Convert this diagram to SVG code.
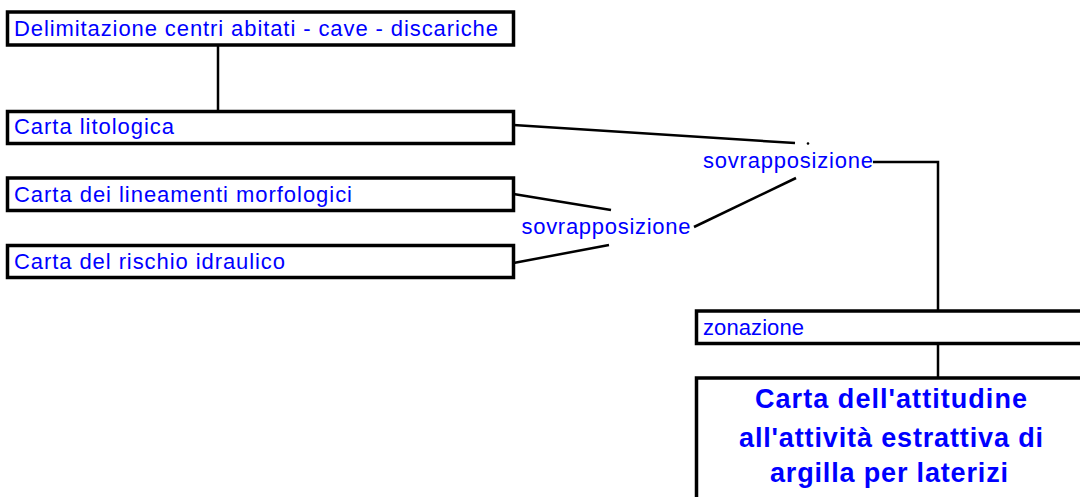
<svg xmlns="http://www.w3.org/2000/svg" width="1080" height="497" viewBox="0 0 1080 497">
<style>
.box{fill:#fff;stroke:#000;stroke-width:3.5}
.t{font-family:"Liberation Sans",Arial,sans-serif;font-size:22px;fill:#0000ff}
.b{font-family:"Liberation Sans",Arial,sans-serif;font-size:27px;font-weight:bold;fill:#0000ff}
.c{fill:none;stroke:#000;stroke-width:2.5}
</style>
<rect width="1080" height="497" fill="#fff"/>
<g id="connectors">
<line class="c" x1="218" y1="45" x2="218" y2="111.5"/>
<line class="c" x1="513.5" y1="125" x2="795" y2="143"/>
<line class="c" x1="513.5" y1="194" x2="611" y2="210"/>
<line class="c" x1="513.5" y1="263" x2="609" y2="245"/>
<line class="c" x1="694" y1="227" x2="796" y2="178"/>
<polyline class="c" points="873,162 938,162 938,311"/>
<line class="c" x1="938" y1="343" x2="938" y2="378"/>
<circle cx="808" cy="143.5" r="1.3" fill="#000"/>
</g>
<g id="n1">
<rect class="box" x="7.5" y="12" width="506" height="33"/>
<text class="t" x="14" y="36" textLength="484" lengthAdjust="spacing">Delimitazione centri abitati - cave - discariche</text>
</g>
<g id="n2">
<rect class="box" x="7.5" y="111.5" width="506" height="32"/>
<text class="t" x="14" y="133.5" textLength="160" lengthAdjust="spacing">Carta litologica</text>
</g>
<g id="n3">
<rect class="box" x="7.5" y="178" width="506" height="32.5"/>
<text class="t" x="14" y="201.5" textLength="338" lengthAdjust="spacing">Carta dei lineamenti morfologici</text>
</g>
<g id="n4">
<rect class="box" x="7.5" y="245.5" width="506" height="32"/>
<text class="t" x="14" y="268.5" textLength="271" lengthAdjust="spacing">Carta del rischio idraulico</text>
</g>
<g id="s1">
<text class="t" x="703" y="168" textLength="170" lengthAdjust="spacing">sovrapposizione</text>
</g>
<g id="s2">
<text class="t" x="521.5" y="233.5" textLength="169" lengthAdjust="spacing">sovrapposizione</text>
</g>
<g id="n5">
<rect class="box" x="696.5" y="311" width="400" height="32.5"/>
<text class="t" x="703" y="335" textLength="101" lengthAdjust="spacing">zonazione</text>
</g>
<g id="n6">
<rect class="box" x="696.5" y="378" width="400" height="140"/>
<text class="b" x="755" y="408" textLength="272" lengthAdjust="spacing">Carta dell'attitudine</text>
<text class="b" x="739" y="446.5" textLength="304" lengthAdjust="spacing">all'attività estrattiva di</text>
<text class="b" x="770" y="482" textLength="238" lengthAdjust="spacing">argilla per laterizi</text>
</g>
</svg>
